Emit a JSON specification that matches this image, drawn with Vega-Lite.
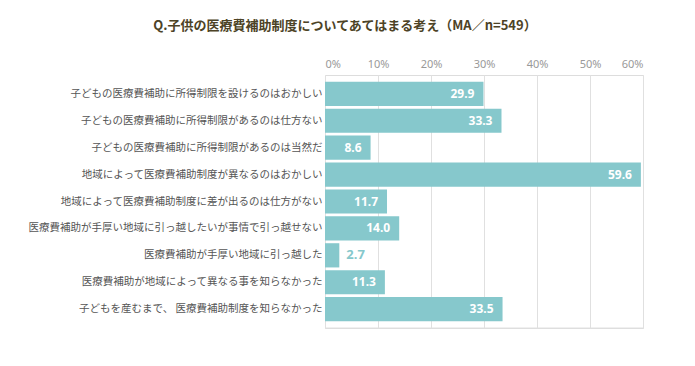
{
  "$schema": "https://vega.github.io/schema/vega-lite/v6.json",
  "autosize": "none",
  "width": 318,
  "height": 253,
  "padding": {"left": 325, "top": 75, "right": 52, "bottom": 38},
  "background": "white",
  "title": {
    "text": "Q.子供の医療費補助制度についてあてはまる考え（MA／n=549）",
    "font": "Noto Sans CJK JP",
    "fontSize": 13,
    "fontWeight": "bold",
    "color": "#4d4326",
    "anchor": "middle",
    "dx": -139,
    "offset": 25
  },
  "data": {
    "values": [
      {"item": "子どもの医療費補助に所得制限を設けるのはおかしい", "value": 29.9},
      {"item": "子どもの医療費補助に所得制限があるのは仕方ない", "value": 33.3},
      {"item": "子どもの医療費補助に所得制限があるのは当然だ", "value": 8.6},
      {"item": "地域によって医療費補助制度が異なるのはおかしい", "value": 59.6},
      {"item": "地域によって医療費補助制度に差が出るのは仕方がない", "value": 11.7},
      {"item": "医療費補助が手厚い地域に引っ越したいが事情で引っ越せない", "value": 14.0},
      {"item": "医療費補助が手厚い地域に引っ越した", "value": 2.7},
      {"item": "医療費補助が地域によって異なる事を知らなかった", "value": 11.3},
      {"item": "子どもを産むまで、 医療費補助制度を知らなかった", "value": 33.5}
    ]
  },
  "encoding": {
    "y": {
      "field": "item",
      "type": "nominal",
      "sort": null,
      "scale": {"paddingInner": 0.1, "paddingOuter": 0.25},
      "axis": {
        "title": null,
        "ticks": false,
        "domain": false,
        "labelFont": "Noto Sans CJK JP",
        "labelFontSize": 10.5,
        "labelColor": "#555555",
        "labelPadding": 3,
        "labelLimit": 400
      }
    },
    "x": {
      "field": "value",
      "type": "quantitative",
      "scale": {"domain": [0, 60]},
      "axis": {
        "orient": "top",
        "title": null,
        "values": [0, 10, 20, 30, 40, 50, 60],
        "labelExpr": "datum.value + '%'",
        "ticks": false,
        "domain": false,
        "grid": true,
        "gridColor": "#e0e0e0",
        "labelFont": "Noto Sans",
        "labelFontSize": 11,
        "labelColor": "#999999",
        "labelPadding": 6
      }
    }
  },
  "layer": [
    {
      "mark": {"type": "rule", "color": "#e0e0e0"},
      "data": {"values": [{}]},
      "encoding": {"y": {"value": 253}, "x": {"value": 0}, "x2": {"value": 318}}
    },
    {
      "mark": {"type": "bar", "color": "#86c8cc"}
    },
    {
      "transform": [{"filter": "datum.value >= 5"}],
      "mark": {"type": "text", "align": "right", "dx": -9, "color": "white", "font": "Noto Sans", "fontSize": 12, "fontWeight": "bold"},
      "encoding": {"text": {"field": "value", "type": "quantitative", "format": ".1f"}}
    },
    {
      "transform": [{"filter": "datum.value < 5"}],
      "mark": {"type": "text", "align": "left", "dx": 7, "color": "#86c8cc", "font": "Noto Sans", "fontSize": 13, "fontWeight": "bold"},
      "encoding": {"text": {"field": "value", "type": "quantitative", "format": ".1f"}}
    }
  ]
}
